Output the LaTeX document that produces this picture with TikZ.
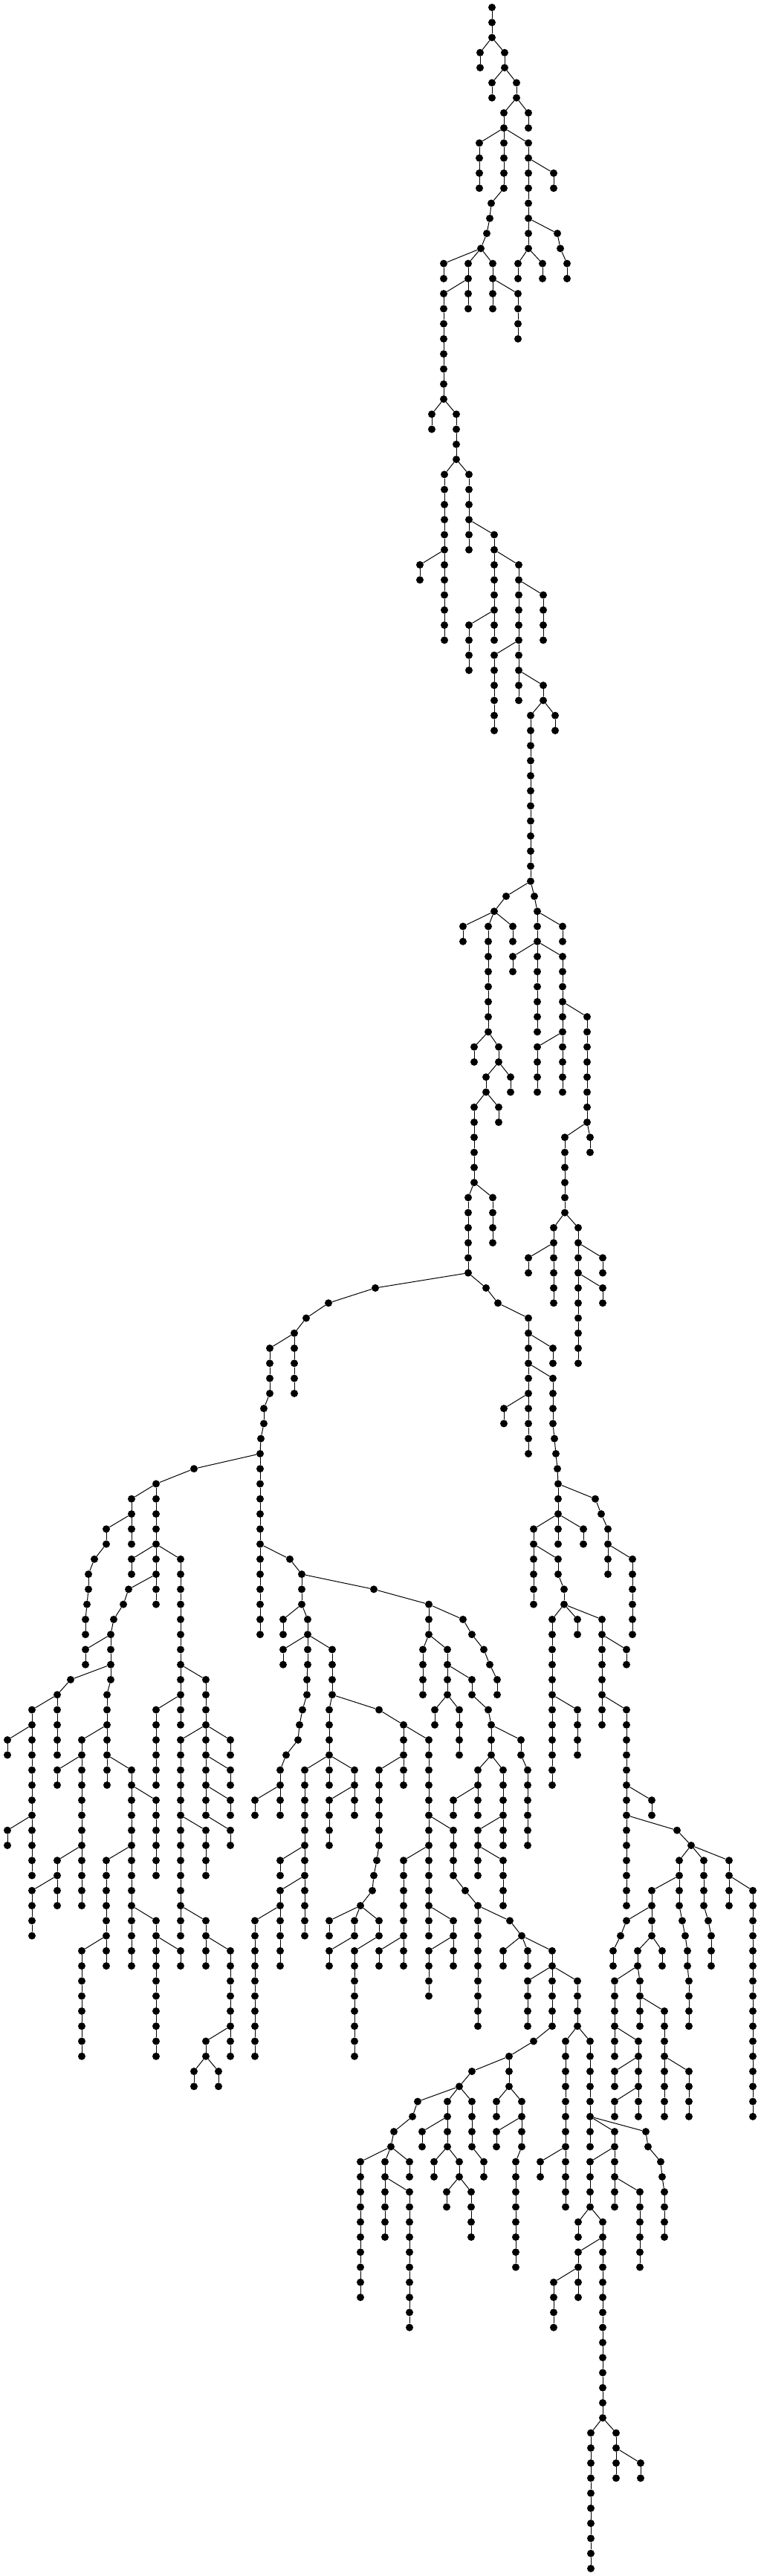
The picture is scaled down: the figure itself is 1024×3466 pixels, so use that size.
\documentclass[tikz,border=0pt]{standalone}
\begin{document}
\begin{tikzpicture}[x=1pt,y=-1pt,
  dot/.style={circle,fill=black,inner sep=0pt,minimum size=10pt},
  edge/.style={line width=1pt,black}]
\newcommand\C[3]{%
 \foreach \l in {#2,...,#3}{%
   \node[dot] (n#1-\l) at (#1,{10+20.27*\l}) {};
   \ifnum\l>#2\relax
     \pgfmathtruncatemacro\pl{\l-1}%
     \draw[edge] (n#1-\pl) -- (n#1-\l);
   \fi}}
\newcommand\D[3]{\pgfmathtruncatemacro\nl{#2+1}\draw[edge] (n#1-#2) -- (n#3-\nl);}
\fill[white] (0,0) rectangle (1024,3466);
\useasboundingbox (0,0) rectangle (1024,3466);
% chains
\C{662}{0}{2}\C{646}{3}{4}\C{679}{3}{4}\C{662}{5}{6}\C{695}{5}{6}\C{678}{7}{12}\C{711}{7}{8}
\C{645}{9}{12}\C{711}{9}{16}\C{745}{11}{12}\C{750}{15}{15}\C{754}{16}{16}\C{763}{17}{18}
\C{697}{17}{18}\C{730}{17}{18}\C{661}{13}{13}\C{659}{14}{14}\C{655}{15}{15}\C{647}{16}{16}
\C{597}{17}{18}\C{630}{17}{20}\C{663}{17}{20}\C{597}{19}{26}\C{697}{19}{22}\C{581}{27}{28}
\C{614}{27}{30}\C{598}{31}{42}\C{565}{37}{38}\C{631}{31}{36}\C{665}{35}{42}\C{698}{37}{46}
\C{731}{39}{42}\C{631}{41}{44}\C{665}{43}{48}\C{731}{45}{46}\C{714}{47}{58}\C{747}{47}{48}
\C{681}{59}{59}\C{719}{59}{59}\C{665}{60}{60}\C{623}{61}{62}\C{657}{61}{68}\C{690}{61}{62}
\C{723}{60}{68}\C{757}{61}{62}\C{690}{63}{64}\C{757}{63}{72}\C{790}{67}{74}\C{723}{69}{72}
\C{638}{69}{70}\C{671}{69}{70}\C{654}{71}{72}\C{687}{71}{72}\C{638}{73}{78}\C{671}{73}{74}
\C{630}{79}{84}\C{663}{79}{82}\C{760}{75}{80}\C{794}{75}{76}\C{745}{81}{86}\C{711}{83}{84}
\C{778}{81}{90}\C{811}{83}{84}\C{811}{85}{86}\C{505}{85}{85}\C{442}{86}{86}\C{412}{87}{87}
\C{396}{88}{92}\C{363}{89}{92}\C{355}{93}{94}\C{351}{95}{95}\C{350}{96}{108}\C{654}{85}{85}
\C{670}{86}{86}\C{711}{87}{96}\C{744}{89}{90}\C{744}{91}{94}\C{746}{95}{95}\C{748}{96}{96}
\C{750}{97}{97}\C{751}{98}{102}\C{678}{93}{94}\C{261}{97}{97}\C{210}{98}{106}\C{177}{99}{102}
\C{143}{101}{102}\C{127}{103}{103}\C{119}{104}{105}\C{117}{106}{106}\C{115}{107}{108}
\C{177}{103}{104}\C{243}{103}{114}\C{173}{105}{105}\C{166}{106}{106}\C{153}{107}{107}
\C{149}{108}{111}\C{144}{112}{118}\C{115}{109}{110}\C{95}{111}{111}\C{77}{112}{116}
\C{43}{113}{124}\C{10}{115}{116}\C{10}{121}{122}\C{110}{115}{126}\C{77}{117}{118}
\C{77}{123}{126}\C{43}{125}{128}\C{177}{117}{130}\C{210}{119}{124}\C{143}{123}{130}
\C{110}{129}{136}\C{210}{127}{136}\C{243}{129}{130}\C{210}{113}{118}\C{277}{111}{120}
\C{243}{115}{128}\C{310}{115}{116}\C{310}{117}{118}\C{310}{119}{120}\C{310}{121}{122}
\C{277}{121}{124}\C{277}{127}{130}\C{310}{129}{136}\C{277}{135}{136}\C{261}{137}{138}
\C{294}{137}{138}\C{390}{103}{103}\C{406}{104}{106}\C{414}{107}{110}\C{381}{107}{108}
\C{381}{109}{110}\C{447}{109}{112}\C{413}{111}{112}\C{407}{113}{113}\C{403}{114}{114}
\C{401}{115}{115}\C{385}{116}{116}\C{377}{117}{120}\C{343}{119}{120}\C{443}{113}{118}
\C{410}{117}{128}\C{377}{123}{124}\C{377}{125}{130}\C{343}{127}{136}\C{477}{117}{120}
\C{443}{119}{122}\C{510}{113}{113}\C{543}{114}{118}\C{577}{115}{128}\C{510}{117}{122}
\C{507}{123}{123}\C{503}{124}{124}\C{501}{125}{125}\C{485}{126}{126}\C{443}{127}{128}
\C{477}{127}{128}\C{443}{129}{130}\C{510}{127}{128}\C{477}{129}{136}\C{510}{129}{130}
\C{610}{121}{124}\C{626}{125}{125}\C{643}{126}{134}\C{686}{127}{127}\C{702}{128}{128}
\C{677}{129}{130}\C{710}{129}{130}\C{743}{129}{134}\C{710}{131}{134}\C{777}{131}{134}
\C{718}{135}{135}\C{685}{136}{138}\C{635}{137}{137}\C{618}{138}{138}\C{761}{135}{146}
\C{794}{135}{142}\C{543}{123}{130}\C{610}{127}{130}\C{577}{129}{132}
\C{718}{101}{106}\C{785}{101}{102}\C{751}{103}{104}\C{759}{105}{106}\C{801}{99}{99}
\C{809}{100}{100}\C{818}{101}{104}\C{851}{103}{108}\C{743}{107}{118}\C{777}{113}{116}
\C{777}{107}{108}\C{810}{107}{114}\C{843}{109}{110}\C{843}{113}{126}\C{877}{119}{120}
\C{911}{121}{121}\C{930}{122}{122}\C{914}{123}{126}\C{918}{127}{127}\C{922}{128}{128}
\C{925}{129}{130}\C{927}{131}{134}\C{877}{125}{128}\C{843}{127}{127}\C{835}{128}{128}
\C{825}{129}{130}\C{858}{129}{130}\C{827}{131}{136}\C{861}{131}{134}\C{891}{129}{130}
\C{894}{133}{140}\C{927}{137}{140}\C{859}{135}{140}\C{827}{137}{138}\C{827}{139}{140}
\C{947}{123}{126}\C{953}{127}{127}\C{957}{128}{130}\C{981}{123}{126}\C{1013}{125}{140}
\C{503}{105}{105}\C{577}{106}{108}\C{623}{107}{107}\C{635}{108}{108}\C{651}{109}{109}
\C{659}{110}{110}\C{669}{111}{112}\C{569}{109}{112}\C{602}{109}{112}\C{635}{111}{112}
\C{585}{113}{114}\C{618}{113}{116}\C{657}{113}{113}\C{661}{114}{116}\C{701}{115}{116}
\C{710}{117}{122}\C{643}{117}{120}\C{677}{117}{122}\C{610}{119}{120}\C{643}{121}{124}
\C{677}{123}{126}
\C{562}{139}{139}\C{555}{140}{140}\C{530}{141}{141}\C{526}{142}{142}\C{485}{143}{152}
\C{518}{143}{148}\C{551}{143}{144}\C{551}{145}{154}\C{602}{139}{142}\C{568}{141}{142}
\C{584}{143}{144}\C{618}{143}{144}\C{601}{145}{146}\C{634}{145}{148}\C{635}{139}{142}
\C{651}{143}{144}\C{668}{139}{140}\C{702}{139}{142}\C{694}{143}{150}\C{668}{141}{142}
\C{727}{143}{144}\C{827}{141}{146}\C{794}{143}{146}\C{861}{145}{150}\C{778}{147}{148}
\C{811}{147}{160}\C{778}{149}{152}\C{745}{151}{154}\C{869}{141}{141}\C{872}{142}{142}
\C{889}{143}{143}\C{891}{144}{144}\C{894}{145}{148}\C{795}{161}{170}\C{829}{161}{164}
\C{862}{163}{164}
% branches
\D{662}{2}{646}\D{662}{2}{679}\D{679}{4}{662}\D{679}{4}{695}\D{695}{6}{678}\D{695}{6}{711}
\D{678}{8}{645}\D{678}{8}{711}\D{711}{10}{745}\D{711}{14}{750}\D{750}{15}{754}\D{754}{16}{763}
\D{711}{16}{697}\D{711}{16}{730}\D{678}{12}{661}\D{661}{13}{659}\D{659}{14}{655}\D{655}{15}{647}
\D{647}{16}{597}\D{647}{16}{630}\D{647}{16}{663}\D{630}{18}{597}\D{663}{18}{697}\D{597}{26}{581}
\D{597}{26}{614}\D{614}{30}{598}\D{598}{36}{565}\D{614}{30}{631}\D{631}{34}{665}\D{665}{36}{698}
\D{698}{38}{731}\D{665}{40}{631}\D{698}{42}{665}\D{698}{44}{731}\D{731}{46}{714}\D{731}{46}{747}
\D{714}{58}{681}\D{714}{58}{719}\D{681}{59}{665}\D{665}{60}{623}\D{665}{60}{657}\D{665}{60}{690}
\D{719}{59}{723}\D{723}{60}{757}\D{723}{62}{690}\D{723}{62}{757}\D{757}{66}{790}\D{757}{68}{723}
\D{657}{68}{638}\D{657}{68}{671}\D{671}{70}{654}\D{671}{70}{687}\D{654}{72}{638}\D{654}{72}{671}
\D{638}{78}{630}\D{638}{78}{663}\D{790}{74}{760}\D{790}{74}{794}\D{760}{80}{745}\D{745}{82}{711}
\D{760}{80}{778}\D{778}{82}{811}\D{778}{84}{811}\D{630}{84}{505}\D{505}{85}{442}\D{442}{86}{412}
\D{412}{87}{396}\D{396}{88}{363}\D{363}{92}{355}\D{355}{94}{351}\D{351}{95}{350}\D{630}{84}{654}
\D{654}{85}{670}\D{670}{86}{711}\D{711}{88}{744}\D{711}{90}{744}\D{744}{94}{746}\D{746}{95}{748}
\D{748}{96}{750}\D{750}{97}{751}\D{711}{92}{678}\D{350}{96}{261}\D{261}{97}{210}\D{210}{98}{177}
\D{177}{100}{143}\D{143}{102}{127}\D{127}{103}{119}\D{119}{105}{117}\D{117}{106}{115}
\D{210}{102}{177}\D{210}{102}{243}\D{210}{104}{173}\D{173}{105}{166}\D{166}{106}{153}
\D{153}{107}{149}\D{149}{108}{115}\D{149}{110}{95}\D{149}{111}{144}\D{95}{111}{77}\D{77}{112}{43}
\D{43}{114}{10}\D{43}{120}{10}\D{144}{114}{110}\D{110}{116}{77}\D{110}{122}{77}\D{77}{124}{43}
\D{144}{116}{177}\D{177}{118}{210}\D{177}{122}{143}\D{143}{128}{110}\D{177}{126}{210}
\D{210}{128}{243}\D{243}{112}{210}\D{243}{110}{277}\D{277}{114}{243}\D{277}{114}{310}
\D{277}{116}{310}\D{277}{118}{310}\D{277}{120}{310}\D{243}{120}{277}\D{243}{126}{277}
\D{277}{128}{310}\D{310}{134}{277}\D{277}{136}{261}\D{277}{136}{294}\D{350}{102}{390}
\D{390}{103}{406}\D{406}{106}{414}\D{406}{106}{381}\D{414}{108}{381}\D{414}{108}{447}
\D{414}{110}{413}\D{413}{112}{407}\D{407}{113}{403}\D{403}{114}{401}\D{401}{115}{385}
\D{385}{116}{377}\D{377}{118}{343}\D{447}{112}{443}\D{443}{116}{410}\D{410}{122}{377}
\D{410}{124}{377}\D{377}{126}{343}\D{443}{116}{477}\D{477}{118}{443}\D{447}{112}{510}
\D{510}{113}{543}\D{543}{114}{577}\D{543}{116}{510}\D{510}{122}{507}\D{507}{123}{503}
\D{503}{124}{501}\D{501}{125}{485}\D{485}{126}{443}\D{485}{126}{477}\D{477}{128}{443}
\D{485}{126}{510}\D{510}{128}{477}\D{543}{128}{510}\D{577}{120}{610}\D{610}{124}{626}
\D{626}{125}{643}\D{643}{126}{686}\D{686}{127}{702}\D{702}{128}{677}\D{702}{128}{710}
\D{702}{128}{743}\D{743}{130}{710}\D{743}{130}{777}\D{743}{134}{718}\D{718}{135}{685}
\D{685}{136}{635}\D{635}{137}{618}\D{777}{134}{761}\D{777}{134}{794}\D{577}{122}{543}
\D{577}{126}{610}\D{610}{128}{577}
\D{406}{104}{503}\D{751}{98}{801}\D{751}{100}{718}\D{751}{100}{785}\D{718}{102}{751}
\D{751}{104}{759}\D{801}{99}{809}\D{809}{100}{818}\D{818}{102}{851}\D{759}{106}{743}
\D{743}{112}{777}\D{759}{106}{777}\D{759}{106}{810}\D{810}{108}{843}\D{810}{112}{843}
\D{843}{118}{877}\D{843}{120}{911}\D{911}{121}{930}\D{930}{122}{914}\D{914}{126}{918}
\D{918}{127}{922}\D{922}{128}{925}\D{925}{130}{927}\D{914}{124}{877}\D{877}{126}{843}
\D{843}{127}{835}\D{835}{128}{825}\D{877}{128}{858}\D{858}{130}{827}\D{858}{130}{861}
\D{877}{128}{891}\D{861}{132}{894}\D{894}{136}{927}\D{827}{134}{859}\D{859}{136}{827}
\D{859}{138}{827}\D{930}{122}{947}\D{947}{126}{953}\D{953}{127}{957}\D{930}{122}{981}
\D{981}{124}{1013}\D{503}{105}{577}\D{577}{106}{623}\D{623}{107}{635}\D{635}{108}{651}
\D{651}{109}{659}\D{659}{110}{669}\D{577}{108}{569}\D{577}{108}{602}\D{602}{110}{635}
\D{602}{112}{585}\D{602}{112}{618}\D{635}{112}{657}\D{657}{113}{661}\D{661}{114}{701}
\D{701}{116}{710}\D{661}{116}{643}\D{661}{116}{677}\D{643}{118}{610}\D{677}{120}{643}
\D{643}{122}{677}
\D{618}{138}{562}\D{562}{139}{555}\D{555}{140}{530}\D{530}{141}{526}\D{526}{142}{485}
\D{526}{142}{518}\D{526}{142}{551}\D{518}{144}{551}\D{618}{138}{602}\D{602}{140}{568}
\D{602}{142}{584}\D{602}{142}{618}\D{618}{144}{601}\D{618}{144}{634}\D{618}{138}{635}
\D{635}{142}{651}\D{685}{138}{668}\D{685}{138}{702}\D{702}{140}{668}\D{702}{142}{694}
\D{761}{142}{727}\D{794}{140}{827}\D{827}{142}{794}\D{827}{144}{861}\D{794}{146}{778}
\D{794}{146}{811}\D{811}{148}{778}\D{778}{150}{745}\D{794}{140}{869}\D{869}{141}{872}
\D{872}{142}{889}\D{889}{143}{891}\D{891}{144}{894}\D{811}{160}{795}\D{811}{160}{829}
\D{829}{162}{862}
\end{tikzpicture}
\end{document}
